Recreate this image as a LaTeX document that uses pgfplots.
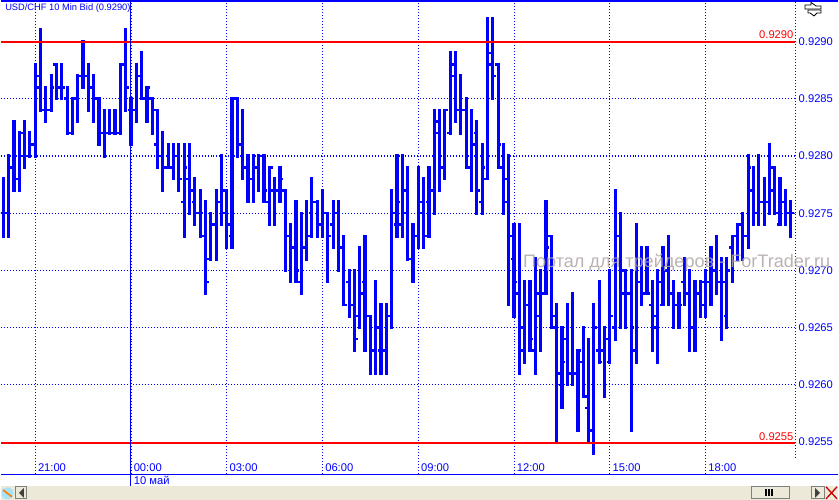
\documentclass[border=0pt]{standalone}
\usepackage{fontspec}
\setmainfont{Liberation Sans}
\usepackage{pgfplots}
\usepackage{pgfplotstable}
\pgfplotsset{compat=1.18}

\definecolor{barblue}{RGB}{0,0,255}
\definecolor{linered}{RGB}{255,0,0}
\definecolor{panel}{RGB}{236,233,216}
\definecolor{wmark}{RGB}{176,165,165}

% k = bar number, 10 min each, 0 = 00:00
\pgfplotstableread{
k open high low close
-24 0.9275 0.9278 0.9273 0.9275
-23 0.9275 0.9280 0.9273 0.9279
-22 0.9279 0.9283 0.9277 0.9280
-21 0.9278 0.9282 0.9277 0.9282
-20 0.9280 0.9283 0.9279 0.9280
-19 0.9280 0.9282 0.9280 0.9281
-18 0.9281 0.9288 0.9280 0.9287
-17 0.9286 0.9291 0.9284 0.9284
-16 0.9284 0.9286 0.9283 0.9284
-15 0.9284 0.9287 0.9284 0.9286
-14 0.9288 0.9288 0.9285 0.9286
-13 0.9286 0.9288 0.9285 0.9286
-12 0.9285 0.9286 0.9282 0.9282
-11 0.9282 0.9285 0.9282 0.9285
-10 0.9285 0.9287 0.9283 0.9287
-9 0.9287 0.9290 0.9286 0.9287
-8 0.9287 0.9288 0.9284 0.9286
-7 0.9286 0.9287 0.9283 0.9285
-6 0.9285 0.9285 0.9281 0.9282
-5 0.9282 0.9284 0.9280 0.9282
-4 0.9282 0.9284 0.9282 0.9282
-3 0.9282 0.9284 0.9282 0.9282
-2 0.9282 0.9288 0.9282 0.9288
-1 0.9288 0.9291 0.9284 0.9286
0 0.9284 0.9285 0.9281 0.9284
1 0.9284 0.9288 0.9283 0.9287
2 0.9287 0.9289 0.9285 0.9285
3 0.9285 0.9286 0.9283 0.9286
4 0.9285 0.9285 0.9282 0.9284
5 0.9281 0.9284 0.9279 0.9280
6 0.9280 0.9282 0.9277 0.9279
7 0.9279 0.9281 0.9279 0.9279
8 0.9279 0.9281 0.9278 0.9280
9 0.9280 0.9281 0.9277 0.9278
10 0.9276 0.9281 0.9273 0.9279
11 0.9278 0.9281 0.9275 0.9277
12 0.9276 0.9278 0.9274 0.9275
13 0.9275 0.9277 0.9273 0.9275
14 0.9273 0.9276 0.9268 0.9269
15 0.9271 0.9275 0.9271 0.9274
16 0.9274 0.9277 0.9271 0.9276
17 0.9276 0.9280 0.9274 0.9275
18 0.9277 0.9277 0.9272 0.9274
19 0.9273 0.9285 0.9272 0.9285
20 0.9285 0.9285 0.9280 0.9281
21 0.9281 0.9284 0.9278 0.9279
22 0.9279 0.9280 0.9276 0.9278
23 0.9278 0.9280 0.9276 0.9279
24 0.9279 0.9280 0.9277 0.9280
25 0.9280 0.9280 0.9276 0.9277
26 0.9276 0.9279 0.9274 0.9279
27 0.9277 0.9278 0.9274 0.9277
28 0.9277 0.9279 0.9276 0.9278
29 0.9277 0.9277 0.9270 0.9273
30 0.9273 0.9274 0.9269 0.9272
31 0.9272 0.9276 0.9269 0.9270
32 0.9269 0.9275 0.9268 0.9272
33 0.9272 0.9276 0.9271 0.9273
34 0.9275 0.9278 0.9273 0.9276
35 0.9276 0.9276 0.9273 0.9274
36 0.9274 0.9277 0.9273 0.9275
37 0.9275 0.9275 0.9269 0.9273
38 0.9274 0.9276 0.9272 0.9275
39 0.9275 0.9276 0.9270 0.9272
40 0.9272 0.9273 0.9267 0.9267
41 0.9269 0.9270 0.9266 0.9267
42 0.9267 0.9270 0.9263 0.9264
43 0.9266 0.9272 0.9265 0.9268
44 0.9269 0.9273 0.9263 0.9266
45 0.9266 0.9266 0.9261 0.9263
46 0.9263 0.9269 0.9261 0.9265
47 0.9263 0.9267 0.9261 0.9263
48 0.9263 0.9267 0.9261 0.9266
49 0.9266 0.9277 0.9265 0.9275
50 0.9274 0.9280 0.9273 0.9276
51 0.9274 0.9280 0.9273 0.9277
52 0.9275 0.9279 0.9271 0.9271
53 0.9271 0.9274 0.9269 0.9273
54 0.9273 0.9279 0.9272 0.9275
55 0.9276 0.9278 0.9272 0.9273
56 0.9276 0.9279 0.9273 0.9277
57 0.9277 0.9284 0.9275 0.9282
58 0.9283 0.9284 0.9277 0.9279
59 0.9279 0.9284 0.9278 0.9284
60 0.9282 0.9289 0.9282 0.9287
61 0.9288 0.9289 0.9283 0.9284
62 0.9284 0.9287 0.9282 0.9284
63 0.9284 0.9285 0.9279 0.9280
64 0.9279 0.9284 0.9277 0.9281
65 0.9282 0.9283 0.9275 0.9277
66 0.9276 0.9281 0.9275 0.9279
67 0.9278 0.9292 0.9278 0.9289
68 0.9288 0.9292 0.9285 0.9287
69 0.9288 0.9288 0.9279 0.9281
70 0.9279 0.9281 0.9275 0.9276
71 0.9278 0.9280 0.9267 0.9273
72 0.9271 0.9274 0.9266 0.9269
73 0.9268 0.9274 0.9261 0.9265
74 0.9263 0.9269 0.9262 0.9267
75 0.9267 0.9269 0.9263 0.9264
76 0.9263 0.9271 0.9261 0.9268
77 0.9266 0.9270 0.9263 0.9268
78 0.9268 0.9276 0.9268 0.9272
79 0.9273 0.9273 0.9265 0.9266
80 0.9265 0.9267 0.9255 0.9261
81 0.9260 0.9265 0.9258 0.9262
82 0.9264 0.9267 0.9260 0.9261
83 0.9261 0.9268 0.9260 0.9261
84 0.9261 0.9263 0.9256 0.9263
85 0.9262 0.9265 0.9259 0.9259
86 0.9258 0.9264 0.9255 0.9256
87 0.9256 0.9267 0.9254 0.9265
88 0.9263 0.9269 0.9262 0.9262
89 0.9263 0.9265 0.9259 0.9264
90 0.9262 0.9270 0.9262 0.9266
91 0.9265 0.9277 0.9264 0.9273
92 0.9273 0.9275 0.9265 0.9270
93 0.9268 0.9270 0.9265 0.9268
94 0.9268 0.9270 0.9256 0.9265
95 0.9263 0.9274 0.9262 0.9269
96 0.9269 0.9272 0.9267 0.9268
97 0.9268 0.9272 0.9268 0.9268
98 0.9267 0.9269 0.9263 0.9266
99 0.9265 0.9270 0.9262 0.9269
100 0.9267 0.9272 0.9267 0.9270
101 0.9270 0.9273 0.9267 0.9268
102 0.9268 0.9269 0.9265 0.9267
103 0.9267 0.9268 0.9265 0.9267
104 0.9269 0.9271 0.9267 0.9268
105 0.9268 0.9270 0.9263 0.9265
106 0.9265 0.9269 0.9263 0.9268
107 0.9268 0.9269 0.9266 0.9269
108 0.9267 0.9270 0.9266 0.9269
109 0.9269 0.9272 0.9267 0.9270
110 0.9270 0.9273 0.9268 0.9269
111 0.9269 0.9271 0.9264 0.9269
112 0.9266 0.9271 0.9265 0.9270
113 0.9272 0.9273 0.9269 0.9273
114 0.9273 0.9274 0.9271 0.9274
115 0.9274 0.9275 0.9271 0.9273
116 0.9273 0.9280 0.9272 0.9279
117 0.9277 0.9279 0.9274 0.9275
118 0.9275 0.9280 0.9274 0.9276
119 0.9276 0.9278 0.9274 0.9276
120 0.9276 0.9281 0.9275 0.9277
121 0.9279 0.9279 0.9275 0.9275
122 0.9274 0.9278 0.9274 0.9276
123 0.9276 0.9277 0.9274 0.9275
124 0.9275 0.9276 0.9273 0.9275
}\bars

\begin{document}
\begin{tikzpicture}
\begin{scope}[x=0.75pt,y=-0.75pt]
  \path[use as bounding box] (0,0) rectangle (839,501);
\end{scope}
\begin{axis}[
  at={(0pt,-356.475pt)}, anchor=south west,
  scale only axis, width=597.225pt, height=355.725pt,
  xmin=-24.43, xmax=124.88, ymin=0.92522, ymax=0.929354,
  axis line style={draw=none},
  major tick length=0pt,
  xtick={-18,0,18,36,54,72,90,108},
  xticklabels={21:00,00:00,03:00,06:00,09:00,12:00,15:00,18:00},
  ytick={0.9255,0.9260,0.9265,0.9270,0.9275,0.9280,0.9285,0.9290},
  yticklabel pos=right,
  /pgf/number format/assume math mode=true,
  /pgf/number format/fixed, /pgf/number format/fixed zerofill, /pgf/number format/precision=4,
  scaled y ticks=false,
  xticklabel style={anchor=south west, inner sep=0pt, font=\fontsize{8.4pt}{9pt}\selectfont, text=barblue, xshift=1.9pt, yshift=1.9pt},
  yticklabel style={anchor=west, inner sep=0pt, font=\fontsize{8.4pt}{9pt}\selectfont, text=barblue, xshift=2.3pt},
  grid=major,
  grid style={barblue, line width=0.8pt, dash pattern=on 0.75pt off 1.5pt},
  clip=true,
]
  % high-low stems
  \addplot[draw=none, mark=none, forget plot,
    error bars/.cd, y dir=minus, y explicit, error mark=none,
    error bar style={barblue, line width=2.4pt, line cap=rect}]
    table[x=k, y=high, y error minus expr=\thisrow{high}-\thisrow{low}] {\bars};
  % open ticks to the left, close ticks to the right
  \addplot[draw=none, mark=none, forget plot,
    error bars/.cd, x dir=minus, x fixed=0.62, error mark=none,
    error bar style={barblue, line width=1.9pt}]
    table[x=k, y=open] {\bars};
  \addplot[draw=none, mark=none, forget plot,
    error bars/.cd, x dir=plus, x fixed=0.62, error mark=none,
    error bar style={barblue, line width=1.9pt}]
    table[x=k, y=close] {\bars};
  % red levels
  \addplot[linered, line width=1.5pt, forget plot] coordinates {(-24.43,0.9290)(124.88,0.9290)};
  \addplot[linered, line width=1.5pt, forget plot] coordinates {(-24.43,0.92549)(124.88,0.92549)};
\end{axis}
\begin{scope}[x=0.75pt,y=-0.75pt]
  % frame and furniture
  \draw[barblue, line width=1.5pt] (0,1) -- (839,1);
  \draw[barblue, line width=0.75pt] (0,475.3) -- (839,475.3);
  \draw[barblue, line width=0.75pt] (130.3,2) -- (130.3,487);
  \draw[barblue, line width=0.8pt, dash pattern=on 0.75pt off 1.5pt] (796.5,2) -- (796.5,459);
  % texts
  \node[anchor=base west, inner sep=0pt, text=barblue, font=\fontsize{7pt}{8pt}\selectfont] at (4,11) {USD/CHF 10 Min Bid (0.9290)};
  \node[anchor=base east, inner sep=0pt, text=linered, font=\fontsize{8.4pt}{9pt}\selectfont] at (794.5,38.5) {0.9290};
  \node[anchor=base east, inner sep=0pt, text=linered, font=\fontsize{8.4pt}{9pt}\selectfont] at (794.5,441.5) {0.9255};
  \node[anchor=base west, inner sep=0pt, text=barblue, font=\fontsize{8.4pt}{9pt}\selectfont] at (133,486) {10 май};
  \node[anchor=base west, inner sep=0pt, text=wmark, opacity=0.85, font=\fontsize{13.6pt}{15pt}\selectfont] at (523,268) {Портал для трейдеров - ForTrader.ru};
  % bottom bar
  \fill[panel] (0,487) rectangle (839,501);
  \draw[gray, line width=0.75pt, fill=panel] (15,488) rectangle (26,500);
  \fill[black!75] (23,489) -- (23,499) -- (18,494) -- cycle;
  \fill[cyan!35] (6.5,494.5) circle (6);
  \draw[orange, line width=1.2pt] (2,491) -- (11,498);
  \draw[gray, line width=0.75pt, fill=panel] (752,488) rectangle (790,499.5);
  \foreach \xx in {767,770,773} \fill[black] (\xx-1,490.5) rectangle (\xx+1,497);
  \draw[gray, line width=0.75pt, fill=panel] (812,488) rectangle (825,500);
  \fill[black!75] (816,489) -- (816,499) -- (821,494) -- cycle;
  \draw[red!80!black, line width=1pt] (827,488) -- (838,500);
  \draw[red!80!black, line width=1pt] (838,488) -- (827,500);
  % drag icon
  \draw[black, line width=0.6pt, fill=white] (806,5) -- (812,5) -- (812,2.5) -- (817,6) -- (822,6) -- (822,9) -- (806,9) -- cycle;
  \draw[black, line width=0.6pt, fill=white] (809,10) -- (822,10) -- (822,13) -- (818,13) -- (815,16) -- (811,13) -- (809,13) -- cycle;
\end{scope}
\end{tikzpicture}
\end{document}
